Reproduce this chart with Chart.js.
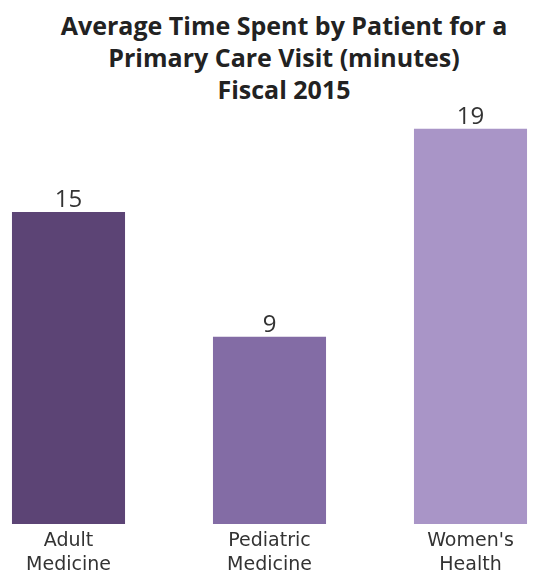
<!DOCTYPE html>
<html>
<head>
<meta charset="utf-8">
<script src="https://cdn.jsdelivr.net/npm/chart.js@4"></script>
<style>
    html, body { margin: 0; padding: 0; background: #fff; overflow: hidden; width: 534px; height: 571px; }
    #wrap { position: relative; width: 534px; height: 571px; overflow: hidden; }
    #title {
        position: absolute; left: 0; top: 9px; width: 568px; text-align: center;
        font-family: "Open Sans", sans-serif; font-weight: bold; font-size: 25px; line-height: 32px; color: #222;
    }
    #report { position: absolute; left: -32px; top: 0; }
</style>
</head>
<body>
<div id="wrap">
    <div id="title">Average Time Spent by Patient for a<br>Primary Care Visit (minutes)<br>Fiscal 2015</div>
    <canvas id="report" width="603" height="571"></canvas>
</div>
<script>
const categories = [["Adult", "Medicine"], ["Pediatric", "Medicine"], ["Women's", "Health"]];
const minutes = [15, 9, 19];
const barColors = ['#5c4475', '#836ca5', '#a995c7'];

// writes the value above each bar
const valueLabels = {
    id: 'valueLabels',
    afterDatasetsDraw(chart) {
        const ctx = chart.ctx;
        const meta = chart.getDatasetMeta(0);
        ctx.save();
        ctx.font = '24px "Open Sans", sans-serif';
        ctx.fillStyle = '#333';
        ctx.textAlign = 'center';
        ctx.textBaseline = 'bottom';
        meta.data.forEach((bar, i) => {
            ctx.fillText(chart.data.datasets[0].data[i], bar.x, bar.y);
        });
        ctx.restore();
    }
};

const ctx = document.getElementById('report').getContext('2d');
let myChart = new Chart(ctx, {
    type: 'bar',
    data: {
        labels: categories,
        datasets: [{
            data: minutes,
            backgroundColor: barColors,
            barPercentage: 0.75,
            categoryPercentage: 0.75
        }]
    },
    options: {
        responsive: false,
        animation: false,
        layout: { padding: { top: 108, left: 0, right: 0, bottom: 0 } },
        plugins: {
            legend: { display: false },
            title: { display: false },
            tooltip: { enabled: false }
        },
        scales: {
            x: {
                grid: { display: false, drawTicks: false },
                border: { display: false },
                ticks: {
                    color: '#333',
                    padding: 5,
                    font: { family: '"DejaVu Sans", sans-serif', size: 19, lineHeight: 1.25 },
                    maxRotation: 0
                },
                // keep the labels low without shrinking the bars
                afterFit(scale) { scale.height = 47; }
            },
            y: {
                display: false,
                min: 0,
                max: 20
            }
        }
    },
    plugins: [valueLabels]
});
</script>
</body>
</html>
